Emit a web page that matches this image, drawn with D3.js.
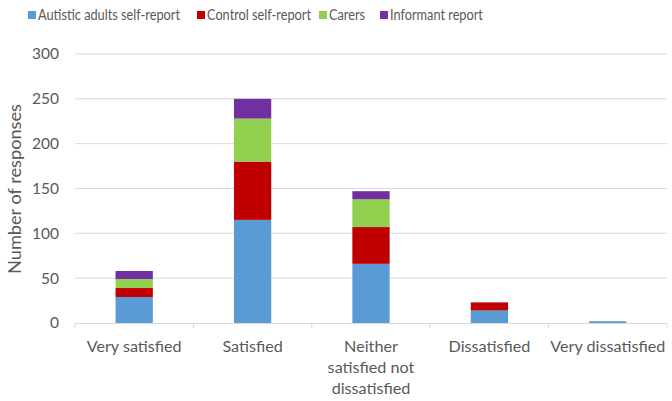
<!DOCTYPE html>
<html><head><meta charset="utf-8">
<script src="https://cdn.jsdelivr.net/npm/d3@7"></script>
<style>body{margin:0;background:#fff;} text{font-family:"Lato","Open Sans",sans-serif;}</style>
</head><body>
<svg id="c" width="672" height="401"></svg>
<script>
const categories = ["Very satisfied","Satisfied","Neither satisfied not dissatisfied","Dissatisfied","Very dissatisfied"];
const categoryLines = [["Very satisfied"],["Satisfied"],["Neither","satisfied not","dissatisfied"],["Dissatisfied"],["Very dissatisfied"]];
const seriesNames = ["Autistic adults self-report","Control self-report","Carers","Informant report"];
const autistic = [29,115,66,14,2];
const control = [10,65,41,9,0];
const carers = [10,48,31,0,0];
const informant = [9,22,9,0,0];
const yTicks = [0,50,100,150,200,250,300];
const colors = ["#5b9bd5","#c00000","#92d050","#7030a0"];

const svg = d3.select("#c");
const m = {l:75, r:667, t:54, b:323};
const x = d3.scaleBand().domain(categories).range([m.l,m.r]).paddingInner(0.685).paddingOuter(0.3425);
const xo = d3.scaleBand().domain(categories).range([m.l,m.r]);
const y = d3.scaleLinear().domain([0,300]).range([m.b,m.t]);

function width(str, size){
  const t = svg.append("text").attr("font-size",size).text(str);
  const w = t.node().getComputedTextLength(); t.remove(); return w;
}
// condense factor so that a larger, Calibri-like size keeps the original widths
const legSize = 14.5, xSize = 15.5;
const legF = 142/width("Autistic adults self-report",legSize);
const xF = 95/width("Very satisfied",xSize);
const ySize = 14*27/width("300",14);
const titleSize = 16*170/width("Number of responses",16);

// grid
svg.append("g").selectAll("line").data(yTicks.slice(1)).join("line")
  .attr("x1",m.l).attr("x2",m.r).attr("y1",d=>y(d)).attr("y2",d=>y(d))
  .attr("stroke","#d9d9d9").attr("stroke-width",1);

const data = categories.map((c,i)=>({cat:c, s0:autistic[i], s1:control[i], s2:carers[i], s3:informant[i]}));
const stack = d3.stack().keys(["s0","s1","s2","s3"])(data);
svg.append("g").selectAll("g").data(stack).join("g").attr("fill",(d,i)=>colors[i])
  .selectAll("rect").data(d=>d).join("rect")
  .attr("x",d=>x(d.data.cat)).attr("width",x.bandwidth())
  .attr("y",d=>y(d[1])).attr("height",d=>y(d[0])-y(d[1]));

// x axis
const xa = svg.append("g");
xa.append("line").attr("x1",m.l).attr("x2",m.r).attr("y1",y(0)+0.5).attr("y2",y(0)+0.5).attr("stroke","#d9d9d9");
const bounds = categories.map(c=>xo(c)).concat([m.r]);
xa.selectAll("line.t").data(bounds).join("line").attr("class","t")
  .attr("x1",d=>d).attr("x2",d=>d).attr("y1",y(0)).attr("y2",y(0)+5).attr("stroke","#d9d9d9");
categories.forEach((c,i)=>{
  const cx = xo(c)+xo.bandwidth()/2;
  categoryLines[i].forEach((ln,j)=>{
    xa.append("text").attr("text-anchor","middle").attr("fill","#595959").attr("font-size",xSize)
      .attr("x",cx).attr("y",352+21*j)
      .attr("textLength",width(ln,xSize)*xF).attr("lengthAdjust","spacingAndGlyphs").text(ln);
  });
});

// y axis labels
svg.append("g").selectAll("text").data(yTicks).join("text")
  .attr("x",59).attr("y",d=>y(d)).attr("dy","0.35em").attr("text-anchor","end")
  .attr("fill","#595959").attr("font-size",ySize).text(d=>d);
svg.append("text").attr("transform","translate(21,189) rotate(-90)").attr("text-anchor","middle")
  .attr("fill","#595959").attr("font-size",titleSize).text("Number of responses");

// legend
const legX = [28,197,319,380];
const lg = svg.append("g");
seriesNames.forEach((s,i)=>{
  lg.append("rect").attr("x",legX[i]).attr("y",11).attr("width",8).attr("height",8).attr("fill",colors[i]);
  lg.append("text").attr("x",legX[i]+10).attr("y",15).attr("dy","0.35em").attr("fill","#595959").attr("font-size",legSize)
    .attr("textLength",width(s,legSize)*legF).attr("lengthAdjust","spacingAndGlyphs").text(s);
});
</script>
</body></html>
